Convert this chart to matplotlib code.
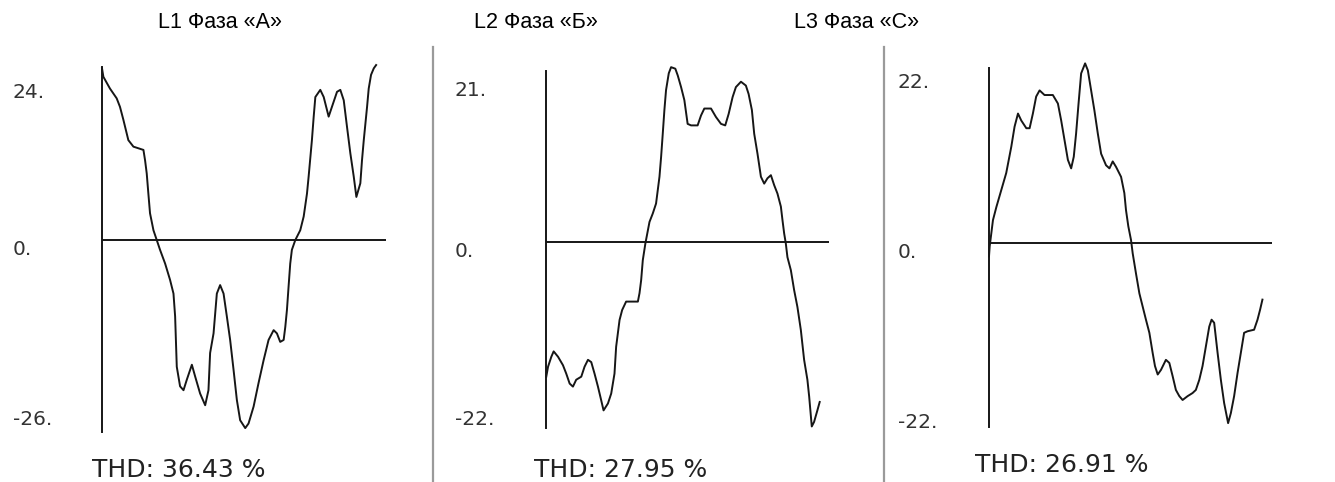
import matplotlib.pyplot as plt
from matplotlib.lines import Line2D
from matplotlib import transforms

# --- data (time in ms, current in A) ---
phase_titles = ["L1 Фаза «А»", "L2 Фаза «Б»", "L3 Фаза «С»"]
thd_labels = ["THD: 36.43 %", "THD: 27.95 %", "THD: 26.91 %"]
tick_values = [[24, 0, -26], [21, 0, -22], [22, 0, -22]]

t_a = [0.0, 0.1, 0.58, 1.07, 1.31, 1.56, 1.92, 2.29, 3.02, 3.14, 3.26, 3.38, 3.5, 3.75,
       3.99, 4.23, 4.6, 4.96, 5.21, 5.33, 5.45, 5.69, 5.94, 6.18, 6.55, 6.79, 7.15, 7.52,
       7.76, 7.88, 8.13, 8.37, 8.61, 8.86, 9.1, 9.34, 9.59, 9.83, 10.07, 10.44, 10.68,
       11.05, 11.41, 11.78, 12.14, 12.51, 12.75, 12.99, 13.24, 13.36, 13.48, 13.6, 13.72,
       13.84, 14.09, 14.45, 14.7, 14.94, 15.06, 15.3, 15.43, 15.55, 15.91, 16.16, 16.52,
       16.76, 17.13, 17.37, 17.62, 17.86, 18.1, 18.35, 18.54, 18.83, 18.95, 19.08, 19.32,
       19.44, 19.61, 19.81, 19.98]
i_a = [26.3, 25.0, 23.2, 21.7, 20.4, 18.4, 15.3, 14.3, 13.8, 12.2, 10.2, 7.1, 4.1, 1.5,
       0.0, -1.5, -3.6, -6.1, -8.2, -11.7, -19.4, -22.4, -23.0, -21.4, -19.1, -20.9, -23.5,
       -25.3, -23.0, -17.3, -14.3, -8.2, -6.9, -8.2, -11.7, -15.3, -19.9, -24.5, -27.6,
       -28.8, -28.1, -25.5, -21.9, -18.4, -15.3, -13.8, -14.3, -15.6, -15.3, -13.3, -10.7,
       -7.1, -3.6, -1.5, 0.0, 1.5, 3.6, 7.1, 9.7, 15.3, 18.9, 21.9, 23.0, 21.9, 18.9, 20.4,
       22.7, 23.0, 21.4, 17.3, 13.3, 9.7, 6.6, 8.7, 12.2, 15.3, 20.4, 23.2, 25.3, 26.3, 26.8]

t_b = [0.02, 0.15, 0.39, 0.56, 0.88, 1.24, 1.48, 1.73, 1.97, 2.21, 2.58, 2.82, 3.07, 3.31,
       3.55, 3.8, 4.04, 4.21, 4.53, 4.77, 5.01, 5.13, 5.38, 5.57, 5.86, 6.72, 6.84, 6.96,
       7.08, 7.27, 7.57, 7.81, 8.05, 8.3, 8.42, 8.54, 8.66, 8.78, 8.98, 9.15, 9.46, 9.64,
       9.88, 10.12, 10.36, 10.61, 11.09, 11.34, 11.58, 12.07, 12.43, 12.8, 13.11, 13.36,
       13.65, 13.89, 14.26, 14.62, 14.82, 15.06, 15.23, 15.47, 15.72, 15.96, 16.2, 16.45,
       16.69, 16.93, 17.18, 17.3, 17.42, 17.54, 17.66, 17.91, 18.15, 18.39, 18.64, 18.88,
       19.12, 19.25, 19.44, 19.61, 19.85, 20.02]
i_b = [-17.6, -16.3, -15.0, -14.3, -15.0, -16.1, -17.2, -18.5, -18.9, -18.0, -17.6, -16.3,
       -15.4, -15.7, -17.2, -18.9, -20.7, -22.0, -21.1, -19.8, -17.2, -13.7, -10.2, -8.9,
       -7.8, -7.8, -6.7, -5.0, -2.4, -0.2, 2.6, 3.7, 5.0, 8.5, 11.1, 14.1, 17.2, 19.8, 22.0,
       22.8, 22.6, 21.7, 20.2, 18.5, 15.4, 15.2, 15.2, 16.5, 17.4, 17.4, 16.3, 15.4, 15.2,
       16.7, 18.9, 20.2, 20.9, 20.4, 19.3, 17.2, 14.1, 11.5, 8.5, 7.6, 8.3, 8.7, 7.4, 6.3,
       4.6, 2.8, 1.1, -0.2, -2.0, -3.7, -6.3, -8.5, -11.5, -15.4, -18.0, -20.2, -24.1,
       -23.5, -22.0, -20.9]

t_c = [0.0, 0.05, 0.17, 0.29, 0.54, 0.9, 1.26, 1.63, 1.87, 2.12, 2.36, 2.73, 2.97, 3.21,
       3.45, 3.7, 4.06, 4.67, 5.04, 5.28, 5.52, 5.77, 6.01, 6.2, 6.37, 6.55, 6.74, 7.03,
       7.23, 7.47, 7.71, 7.96, 8.2, 8.56, 8.81, 9.05, 9.29, 9.66, 9.9, 10.02, 10.19, 10.39,
       10.51, 10.75, 11.0, 11.24, 11.48, 11.73, 11.97, 12.14, 12.34, 12.58, 12.94, 13.19,
       13.43, 13.67, 13.92, 14.16, 14.53, 14.89, 15.13, 15.38, 15.62, 15.86, 16.11, 16.28,
       16.47, 16.72, 16.96, 17.2, 17.49, 17.69, 17.93, 18.18, 18.42, 18.66, 18.91, 19.39,
       19.64, 19.83, 20.0]
i_c = [-1.7, -0.4, 1.3, 3.0, 4.7, 6.9, 9.1, 12.5, 15.1, 16.8, 15.9, 14.9, 14.9, 16.8, 19.0,
       19.8, 19.2, 19.2, 18.1, 15.9, 13.4, 10.8, 9.7, 11.2, 14.2, 18.1, 22.0, 23.3, 22.4,
       19.8, 17.2, 14.2, 11.6, 10.1, 9.7, 10.6, 9.9, 8.6, 6.5, 4.3, 2.2, 0.4, -1.3, -3.9,
       -6.5, -8.2, -9.9, -11.6, -14.2, -15.9, -17.0, -16.4, -15.1, -15.5, -17.2, -19.0,
       -19.8, -20.3, -19.8, -19.4, -19.0, -17.7, -15.9, -13.4, -10.8, -9.9, -10.3, -14.2,
       -17.7, -20.7, -23.3, -22.0, -19.8, -16.8, -14.2, -11.6, -11.4, -11.2, -9.9, -8.6,
       -7.3]

traces = [(t_a, i_a), (t_b, i_b), (t_c, i_c)]

# --- layout (pixels of a 1335x482 canvas) ---
W, H = 1335, 482
# left, right, top, bottom of each plot box
boxes = [(102, 386, 67, 432), (546, 829, 71, 428), (989, 1272, 68, 427)]
ylims = [(-29.4, 26.5), (-24.3, 22.3), (-23.8, 22.7)]
xmax = 20.7
label_x = [13, 455, 898]
title_pos = [(220, 22), (536, 22), (857, 22)]
thd_pos = [(179, 470), (621, 470), (1062, 465)]
separators = [433, 884]

ink = "#161616"

fig = plt.figure(figsize=(W / 100, H / 100), dpi=100)
fig.patch.set_facecolor("white")

for k in range(3):
    l, r, top, bot = boxes[k]
    ax = fig.add_axes([l / W, 1 - bot / H, (r - l) / W, (bot - top) / H])
    ax.set_xlim(0, xmax)
    ax.set_ylim(*ylims[k])
    for s in ["top", "right", "bottom"]:
        ax.spines[s].set_visible(False)
    ax.spines["left"].set_linewidth(1.4)
    ax.spines["left"].set_color(ink)
    ax.set_xticks([])
    ax.set_yticks([])
    ax.patch.set_alpha(0)
    ax.axhline(0, color=ink, lw=1.4)

    t, cur = traces[k]
    ax.plot(t, cur, color=ink, lw=1.4, clip_on=False)

    # amplitude labels in the style of the analyser printout
    trans = transforms.blended_transform_factory(fig.transFigure, ax.transData)
    for v in tick_values[k]:
        ax.text(label_x[k] / W, v, f"{v}.", transform=trans, ha="left", va="top",
                fontsize=14.5, color="#333333", family="DejaVu Sans")

    fig.text(title_pos[k][0] / W, 1 - title_pos[k][1] / H, phase_titles[k],
             ha="center", va="center", fontsize=15.5, color="black",
             family=["Liberation Sans", "DejaVu Sans"])
    fig.text(thd_pos[k][0] / W, 1 - thd_pos[k][1] / H, thd_labels[k],
             ha="center", va="center", fontsize=18, color="#222222",
             family="DejaVu Sans")

for sx in separators:
    fig.add_artist(Line2D([sx / W, sx / W], [0, 1 - 47 / H], color="#9a9a9a", lw=1.6))

plt.savefig("out.png", dpi=100)
